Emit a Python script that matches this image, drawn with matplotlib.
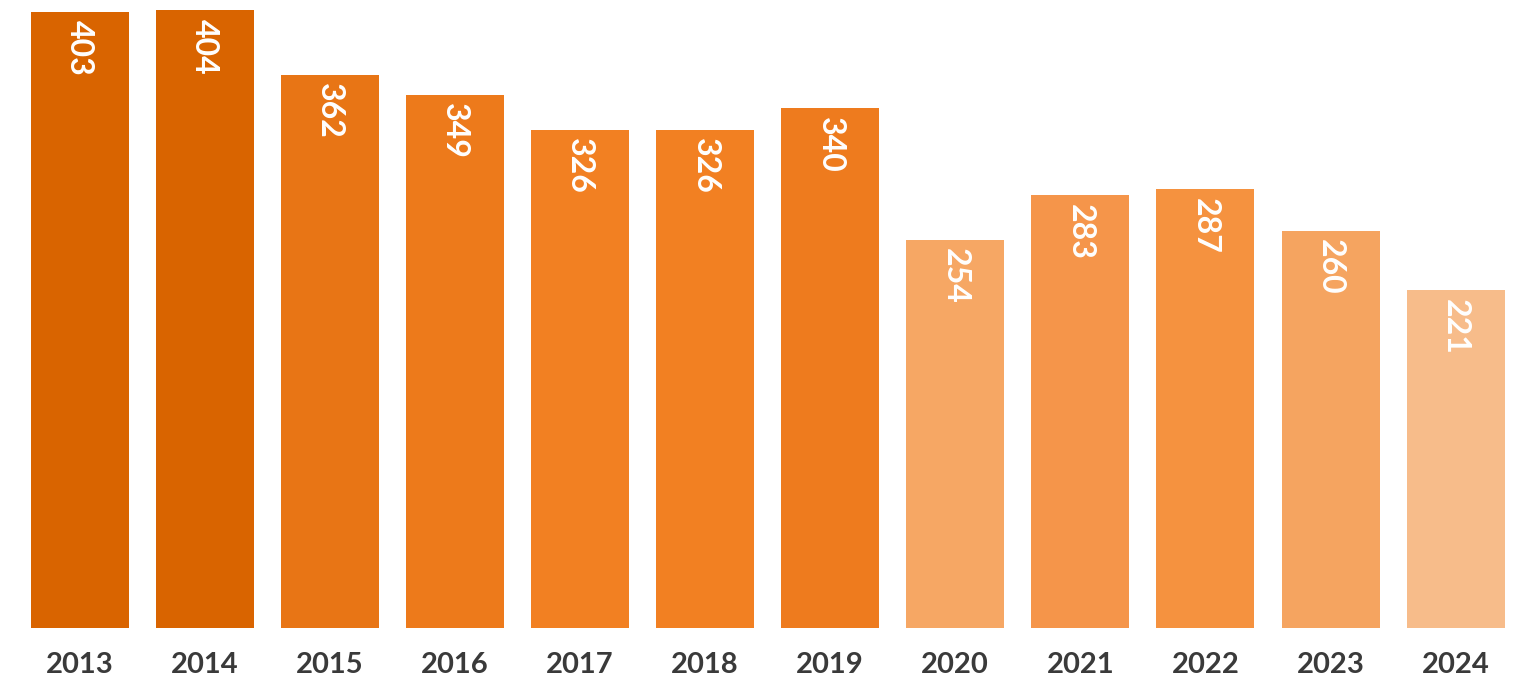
import matplotlib.pyplot as plt

years = ["2013", "2014", "2015", "2016", "2017", "2018",
         "2019", "2020", "2021", "2022", "2023", "2024"]
values = [403, 404, 362, 349, 326, 326, 340, 254, 283, 287, 260, 221]
colors = ["#D96400", "#D96400", "#E87515", "#ED7A1B", "#F28022", "#F28022",
          "#EE7B1E", "#F6A764", "#F5954A", "#F5923F", "#F5A460", "#F7BC8A"]

W, H, DPI = 1522, 681, 100
fig = plt.figure(figsize=(W / DPI, H / DPI), dpi=DPI)
ax = fig.add_axes([0, 53 / H, 1, 628 / H])

spacing = 125.1
x0 = 79.5
x = list(range(len(years)))
bars = ax.bar(x, values, width=98 / spacing, color=colors)

ax.set_xlim(-x0 / spacing, (W - x0) / spacing)
ax.set_ylim(0, 628 / 1.5285)

for bar, v in zip(bars, values):
    ax.annotate(str(v), (bar.get_x() + bar.get_width() / 2, v),
                xytext=(0, -6), textcoords="offset points",
                ha="center", va="top", rotation=270,
                color="white", fontsize=23, fontweight="bold", family="Lato")

ax.set_xticks(x)
ax.set_xticklabels(years, fontsize=21, fontweight="bold", family="Lato", color="#3a3a3a")
ax.tick_params(axis="x", length=0, pad=17.5)
ax.set_yticks([])
for s in ax.spines.values():
    s.set_visible(False)

fig.savefig("out.png", dpi=DPI)
